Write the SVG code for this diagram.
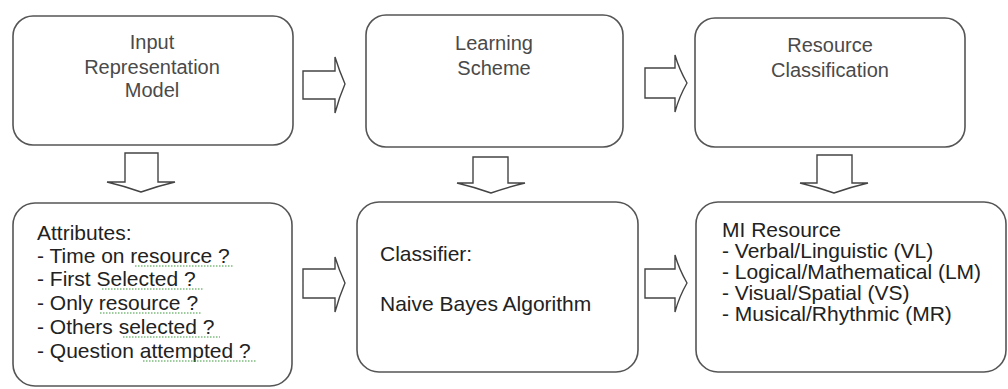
<svg xmlns="http://www.w3.org/2000/svg" width="1008" height="389" viewBox="0 0 1008 389">
<style>
.box{fill:#fff;stroke:#555;stroke-width:1.6}
.arr{fill:#fff;stroke:#444;stroke-width:1.4;stroke-linejoin:miter}
.t{font-family:"Liberation Sans",Arial,sans-serif;font-size:20px;fill:#4a4a4a}
.b{font-family:"Liberation Sans",Arial,sans-serif;font-size:21px;fill:#222}
.sq{fill:none;stroke:#3a9a3a;stroke-width:1.2;stroke-dasharray:1.5 1.5}
</style>
<rect width="1008" height="389" fill="#fff"/>
<g id="connectors">
<path class="arr" d="M303,71 H335 V57 Q339,70 345,84 Q339,98 335,113 V99 H303 Z"/>
<path class="arr" d="M645,68 H675 V55 Q679,69 687,83 Q679,97 675,112 V98 H645 Z"/>
<path class="arr" d="M125,153 H158 V182 H175 Q158,186 141,192 Q124,186 107,182 H125 Z"/>
<path class="arr" d="M473,157 H508 V183 H525 Q508,187 491,193 Q474,187 457,183 H473 Z"/>
<path class="arr" d="M817,155 H852 V183 H868 Q851,187 834,193 Q817,187 800,183 H817 Z"/>
<path class="arr" d="M303,269 H335 V257 Q339,270 345,283 Q339,297 335,312 V298 H303 Z"/>
<path class="arr" d="M645,269 H675 V255 Q679,269 687,283 Q679,297 675,312 V298 H645 Z"/>
</g>
<g id="input">
<rect class="box" x="13" y="16" width="280" height="129" rx="20"/>
<text class="t" text-anchor="middle" x="152" y="49">Input</text>
<text class="t" text-anchor="middle" x="152" y="74">Representation</text>
<text class="t" text-anchor="middle" x="152" y="97">Model</text>
</g>
<g id="learning">
<rect class="box" x="366" y="15" width="257" height="132" rx="20"/>
<text class="t" text-anchor="middle" x="494" y="50">Learning</text>
<text class="t" text-anchor="middle" x="494" y="75">Scheme</text>
</g>
<g id="resclass">
<rect class="box" x="695" y="18" width="270" height="129" rx="20"/>
<text class="t" text-anchor="middle" x="830" y="52">Resource</text>
<text class="t" text-anchor="middle" x="830" y="77">Classification</text>
</g>
<g id="attributes">
<rect class="box" x="13" y="203" width="279" height="183" rx="22"/>
<text class="b" x="37" y="240">Attributes:</text>
<text class="b" x="37" y="263">- Time on resource ?</text>
<text class="b" x="37" y="286">- First Selected ?</text>
<text class="b" x="37" y="310">- Only resource ?</text>
<text class="b" x="37" y="334">- Others selected ?</text>
<text class="b" x="37" y="358">- Question attempted ?</text>
<path class="sq" d="M135,266 H233 M102,289 H203 M100,313 H202 M123,337 H220 M143,361 H257"/>
</g>
<g id="classifier">
<rect class="box" x="357" y="202" width="281" height="170" rx="22"/>
<text class="b" x="380" y="261">Classifier:</text>
<text class="b" x="380" y="311">Naive Bayes Algorithm</text>
</g>
<g id="miresource">
<rect class="box" x="696" y="202" width="310" height="170" rx="22"/>
<text class="b" x="722" y="237">MI Resource</text>
<text class="b" x="722" y="258">- Verbal/Linguistic (VL)</text>
<text class="b" x="722" y="279">- Logical/Mathematical (LM)</text>
<text class="b" x="722" y="300">- Visual/Spatial (VS)</text>
<text class="b" x="722" y="321">- Musical/Rhythmic (MR)</text>
</g>
</svg>
